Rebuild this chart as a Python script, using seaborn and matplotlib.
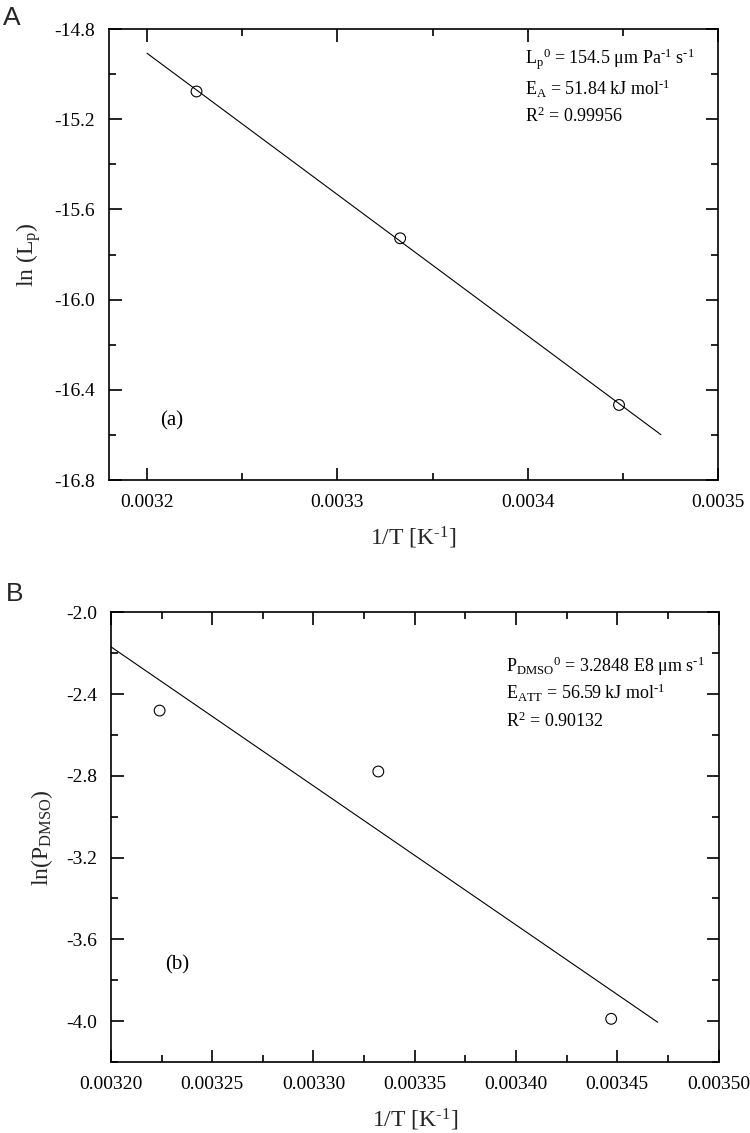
import numpy as np
import pandas as pd
import seaborn as sns
import matplotlib
matplotlib.use("Agg")
import matplotlib.pyplot as plt
from matplotlib.ticker import MultipleLocator, FormatStrFormatter

# dane
inv_T_a = [0.003226, 0.003333, 0.003448]
ln_Lp = [-15.077, -15.728, -16.467]

inv_T_b = [0.003224, 0.003332, 0.003447]
ln_Pdmso = [-2.481, -2.779, -3.989]

# zakres linii dopasowania
fit_range = [0.00320, 0.00347]

m1 = r"$^\mathrm{\text{-}1}$"
txt_a = [r"L$_\mathrm{p}$$^\mathrm{0}$ = 154.5 μm Pa" + m1 + " s" + m1,
         r"E$_\mathrm{A}$ = 51.84 kJ mol" + m1,
         r"R$^\mathrm{2}$ = 0.99956"]
txt_b = [r"P$_\mathrm{DMSO}$$^\mathrm{0}$ = 3.2848 E8 μm s" + m1,
         r"E$_\mathrm{ATT}$ = 56.59 kJ mol" + m1,
         r"R$^\mathrm{2}$ = 0.90132"]

sns.set_theme(style="ticks")
plt.rcParams['font.family'] = ['Liberation Serif', 'DejaVu Serif']
plt.rcParams['mathtext.fontset'] = 'custom'
plt.rcParams['mathtext.rm'] = 'Liberation Serif'
plt.rcParams['mathtext.it'] = 'Liberation Serif:italic'
plt.rcParams['axes.unicode_minus'] = False
plt.rcParams['axes.linewidth'] = 1.2
plt.rcParams['axes.edgecolor'] = 'black'

fig = plt.figure(figsize=(7.5, 11.33), dpi=100)
ax1 = fig.add_axes([0.1453, 0.5763, 0.9573 - 0.1453, 0.9744 - 0.5763])
ax2 = fig.add_axes([0.148, 0.0627, 0.958 - 0.148, 0.4596 - 0.0627])


def draw_panel(ax, x, y, xlim, ylim, xmaj, xfmt, txt, tx, ty, tag, tagpos, ylabel):
    df = pd.DataFrame({'x': x, 'y': y})
    k, b = np.polyfit(df['x'], df['y'], 1)
    xf = np.array(fit_range)
    sns.lineplot(x=xf, y=k * xf + b, ax=ax, color='black', linewidth=0.8)
    sns.scatterplot(data=df, x='x', y='y', ax=ax, marker='o', s=60,
                    facecolors='none', edgecolor='black', linewidth=0.8, zorder=3)
    ax.set_xlim(*xlim)
    ax.set_ylim(*ylim)
    ax.xaxis.set_major_locator(MultipleLocator(xmaj))
    ax.xaxis.set_minor_locator(MultipleLocator(xmaj / 2))
    ax.yaxis.set_major_locator(MultipleLocator(0.4))
    ax.yaxis.set_minor_locator(MultipleLocator(0.2))
    ax.xaxis.set_major_formatter(FormatStrFormatter(xfmt))
    ax.yaxis.set_major_formatter(FormatStrFormatter('%.1f'))
    ax.tick_params(which='both', direction='in', top=True, right=True,
                   width=1.2, labelsize=14, colors='black')
    ax.tick_params(which='major', length=9, pad=10)
    ax.tick_params(which='minor', length=5)
    ax.set_xlabel(r"1/T [K" + m1 + "]", fontsize=17, labelpad=10)
    ax.set_ylabel(ylabel, fontsize=17, labelpad=8)
    for i, t in enumerate(txt):
        ax.text(tx, ty[i], t, transform=ax.transAxes, fontsize=13, color='black')
    ax.text(tagpos[0], tagpos[1], tag, transform=ax.transAxes, fontsize=15,
            va='center', color='black')


draw_panel(ax1, inv_T_a, ln_Lp, (0.00318, 0.0035), (-16.8, -14.8), 0.0001, '%.4f',
           txt_a, 0.683, [0.921, 0.854, 0.794], '(a)', (0.084, 0.131), r"ln (L$_\mathrm{p}$)")
draw_panel(ax2, inv_T_b, ln_Pdmso, (0.0032, 0.0035), (-4.2, -2.0), 0.00005, '%.5f',
           txt_b, 0.651, [0.867, 0.806, 0.744], '(b)', (0.089, 0.216), r"ln(P$_\mathrm{DMSO}$)")

fig.text(0.004, 0.995, 'A', fontsize=19, family='Liberation Sans', va='top')
fig.text(0.008, 0.486, 'B', fontsize=19, family='Liberation Sans', va='top')

fig.savefig('out.png', dpi=100)
